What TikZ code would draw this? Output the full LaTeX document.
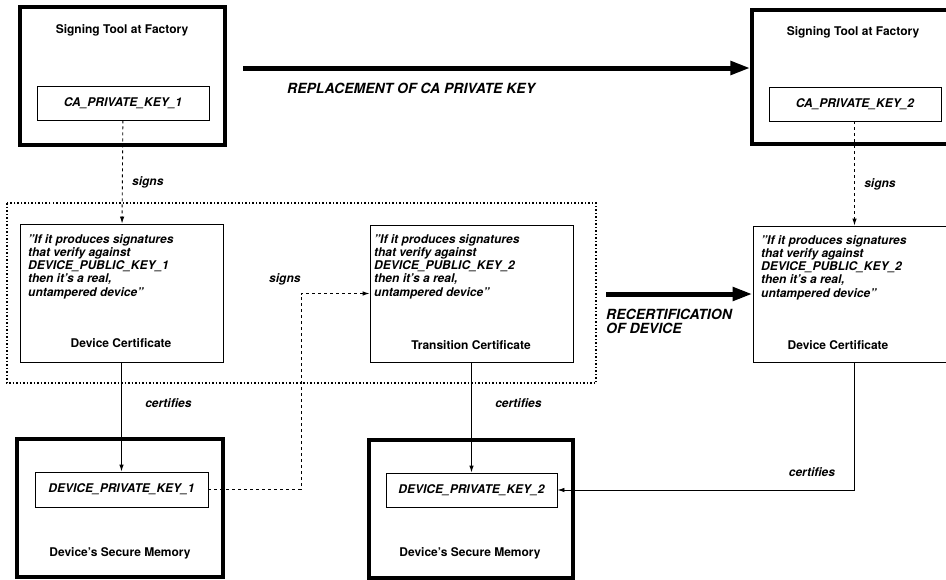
\documentclass[tikz,border=0pt]{standalone}
\usepackage{fontspec}
\setmainfont{TeX Gyre Heros}
\usetikzlibrary{arrows.meta}
\tikzset{
	outerbox/.style={draw,line width=3.2pt,inner sep=0pt},
	thinbox/.style={draw,line width=0.9pt,inner sep=0pt},
	keytext/.style={font=\fontsize{12}{13.3}\selectfont\bfseries\itshape},
	title/.style={font=\fontsize{12}{13.3}\selectfont\bfseries},
	quote/.style={font=\fontsize{12}{13.3}\selectfont\bfseries\itshape,align=left,anchor=north west,inner sep=0pt},
	lab/.style={font=\fontsize{12}{13.3}\selectfont\bfseries\itshape},
	biglab/.style={font=\fontsize{14}{13.5}\selectfont\bfseries\itshape,align=left,inner sep=0pt},
	signs/.style={line width=0.9pt,dash pattern=on 3pt off 3pt,-{Latex[length=7pt,width=4.5pt]}},
	certs/.style={line width=0.9pt,-{Latex[length=7pt,width=4.5pt]}},
	bigarrow/.style={line width=5pt,-{Triangle[length=20pt,width=13pt]}}
}
\begin{document}
\begin{tikzpicture}[x=1pt,y=-1pt]
	\useasboundingbox (0,0) rectangle (946,579);
	\clip (0,0) rectangle (946,579);
	% signing tools
	\node[outerbox,minimum width=205pt,minimum height=138pt] (tool1) at (122.5,76) {};
	\node[title] (tool1t) at (122,30) {Signing Tool at Factory};
	\node[thinbox,keytext,minimum width=172pt,minimum height=34pt] (cakey1) at (123,103) {CA\_PRIVATE\_KEY\_1};
	\node[outerbox,minimum width=205pt,minimum height=134pt] (tool2) at (854.5,77) {};
	\node[title] (tool2t) at (853,32) {Signing Tool at Factory};
	\node[thinbox,keytext,minimum width=172pt,minimum height=34pt] (cakey2) at (855,104) {CA\_PRIVATE\_KEY\_2};
	
	% certificates
	\draw[dotted,line width=1.5pt] (7,203) rectangle (596,383);
	\node[thinbox,minimum width=203pt,minimum height=138pt] (dcert1) at (121.5,293) {};
	\node[quote] (q1) at (28,234) {"If it produces signatures\\that verify against\\DEVICE\_PUBLIC\_KEY\_1\\then it's a real,\\untampered device"};
	\node[title] (dcert1t) at (121,343) {Device Certificate};
	\node[thinbox,minimum width=203pt,minimum height=137pt] (tcert) at (471.5,293.5) {};
	\node[quote] (q2) at (374,234) {"If it produces signatures\\that verify against\\DEVICE\_PUBLIC\_KEY\_2\\then it's a real,\\untampered device"};
	\node[title] (tcertt) at (471,345) {Transition Certificate};
	\node[thinbox,minimum width=203pt,minimum height=136pt] (dcert2) at (854.5,294) {};
	\node[quote] (q3) at (761,235) {"If it produces signatures\\that verify against\\DEVICE\_PUBLIC\_KEY\_2\\then it's a real,\\untampered device"};
	\node[title] (dcert2t) at (838,345) {Device Certificate};
	
	% secure memories
	\node[outerbox,minimum width=206pt,minimum height=138pt] (mem1) at (120,508) {};
	\node[thinbox,keytext,minimum width=173pt,minimum height=35pt] (dkey1) at (121.5,489.5) {DEVICE\_PRIVATE\_KEY\_1};
	\node[title] (mem1t) at (120,553) {Device's Secure Memory};
	\node[outerbox,minimum width=204pt,minimum height=138pt] (mem2) at (471,509) {};
	\node[thinbox,keytext,minimum width=171pt,minimum height=34pt] (dkey2) at (471.5,490) {DEVICE\_PRIVATE\_KEY\_2};
	\node[title] (mem2t) at (470,553) {Device's Secure Memory};
	
	\draw[signs] (cakey1) --node[pos=0.6,right=6pt,lab]{signs} (dcert1);
	\draw[signs] (cakey2.south -| dcert2.north) --node[pos=0.6,right=6pt,lab]{signs} (dcert2.north);
	\draw[certs] (dcert1) --node[pos=0.37,right=20pt,lab]{certifies} (dkey1);
	\draw[certs] (tcert) --node[pos=0.37,right=20pt,lab]{certifies} (dkey2);
	\coordinate (bend) at (301,293.5);
	\draw[signs] (dkey1.east) -| (bend) node[lab,anchor=base east,inner sep=0pt,yshift=11.5pt]{signs} -- (tcert.west);
	\draw[certs] (dcert2.south) |- node[pos=0.5,lab,anchor=base east,inner sep=0pt,xshift=-19pt,yshift=14pt]{certifies} (dkey2.east);
	
	\coordinate (rplA) at (243,68); \coordinate (recA) at (606,294);
	\draw[bigarrow] (rplA) -- (rplA -| tool2.west);
	\node[biglab,anchor=west] (rpl) at (287,88) {REPLACEMENT OF CA PRIVATE KEY};
	\draw[bigarrow] (recA) -- (dcert2.west);
	\node[biglab,anchor=north west] (rec) at (606,309) {RECERTIFICATION\\OF DEVICE};
\end{tikzpicture}
\end{document}
